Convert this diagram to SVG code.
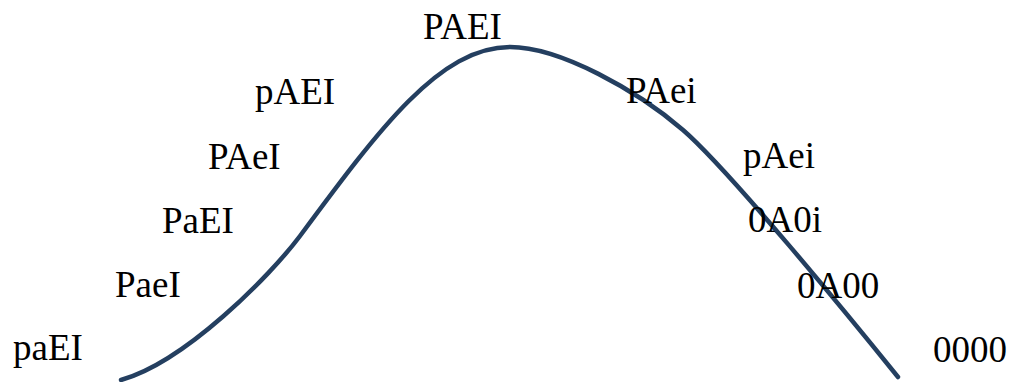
<svg xmlns="http://www.w3.org/2000/svg" width="1011" height="382" viewBox="0 0 1011 382">
<style>
.lbl{font-family:"Liberation Serif","Times New Roman",serif;font-size:37px;fill:#000}
.curve{fill:none;stroke:#243F60;stroke-width:4.5;stroke-linecap:round}
</style>
<rect width="1011" height="382" fill="#fff"/>
<g id="connectors">
<path class="curve" d="M121,380 C185,362 270,276 300,236 C380,128 440,47 510,47 C560,47 638,91 683,130 C728,169 848,315 898,377"/>
</g>
<g id="n-paEI"><text class="lbl" x="13" y="360">paEI</text></g>
<g id="n-PaeI"><text class="lbl" x="115" y="297">PaeI</text></g>
<g id="n-PaEI"><text class="lbl" x="162" y="233">PaEI</text></g>
<g id="n-PAeI"><text class="lbl" x="208" y="169">PAeI</text></g>
<g id="n-pAEI"><text class="lbl" x="255" y="104">pAEI</text></g>
<g id="n-PAEI"><text class="lbl" x="423" y="39">PAEI</text></g>
<g id="n-PAei"><text class="lbl" x="626" y="103">PAei</text></g>
<g id="n-pAei"><text class="lbl" x="743" y="168">pAei</text></g>
<g id="n-0A0i"><text class="lbl" x="748" y="232">0A0i</text></g>
<g id="n-0A00"><text class="lbl" x="797" y="298">0A00</text></g>
<g id="n-0000"><text class="lbl" x="933" y="362">0000</text></g>
</svg>
